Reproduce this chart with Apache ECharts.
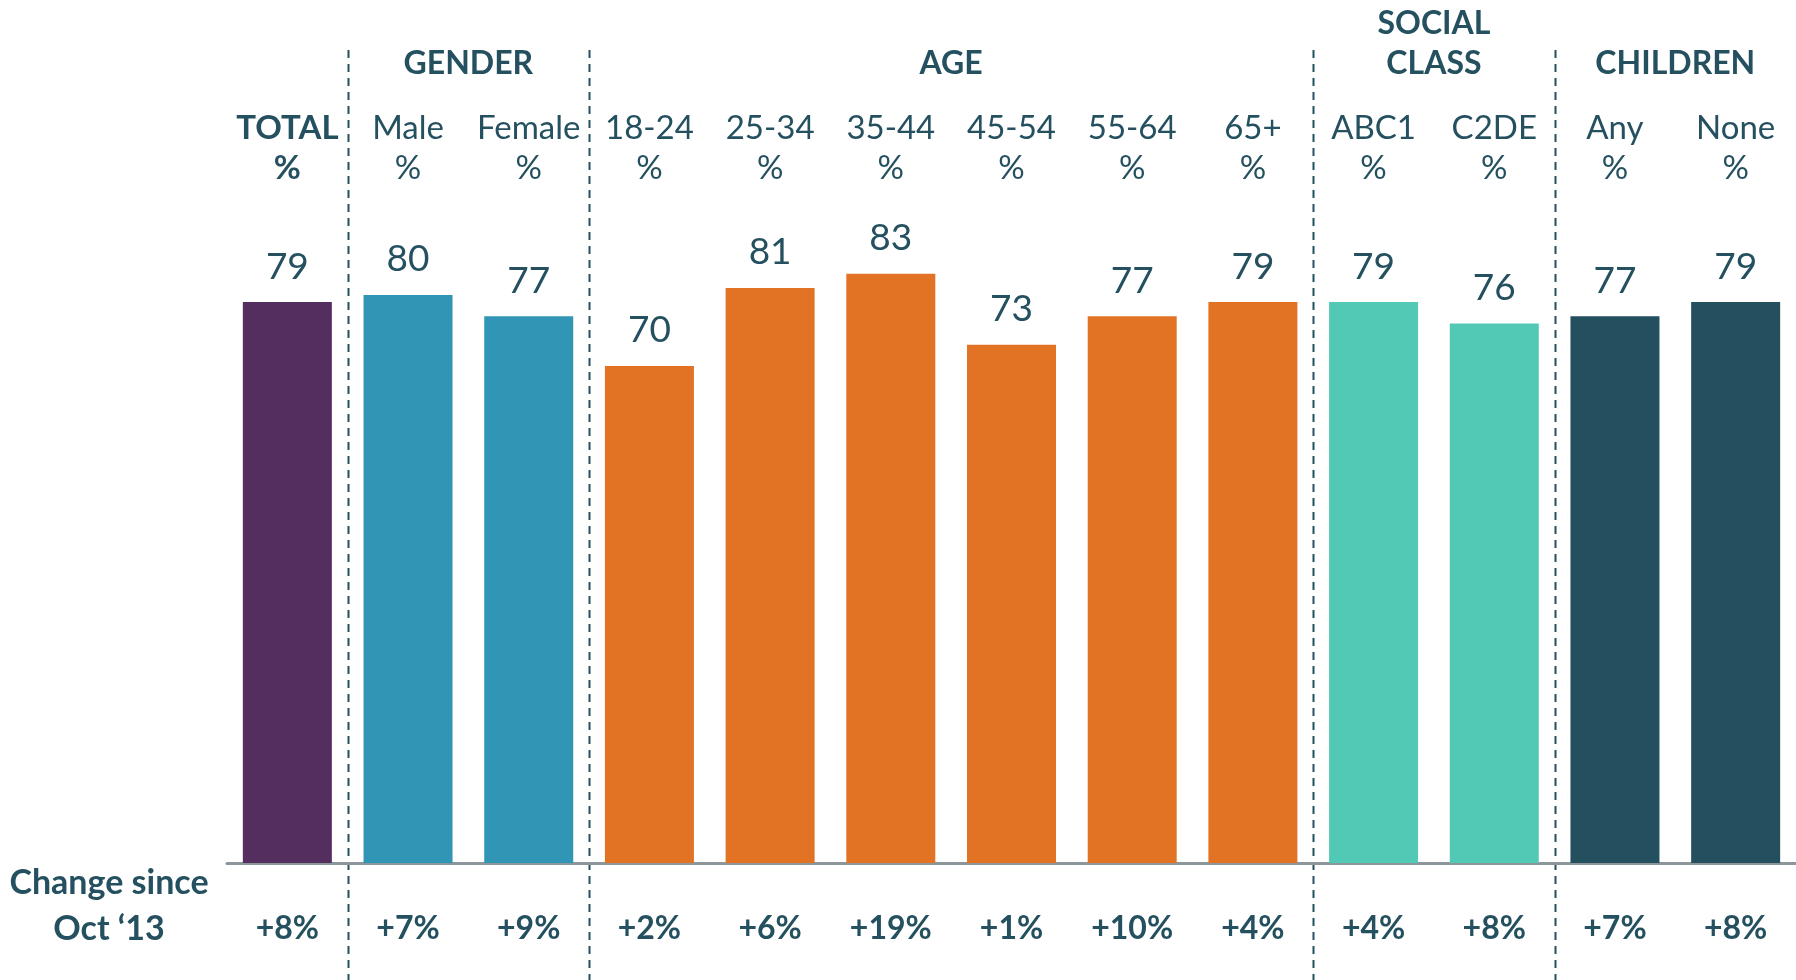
<!DOCTYPE html>
<html>
<head>
<meta charset="utf-8">
<script src="https://cdn.jsdelivr.net/npm/echarts@6/dist/echarts.min.js"></script>
<style>
  html, body { margin: 0; padding: 0; background: #fff; }
  #chart { width: 1796px; height: 980px; }
</style>
</head>
<body>
<div id="chart"></div>
<script>
const categories = ['TOTAL', 'Male', 'Female', '18-24', '25-34', '35-44', '45-54', '55-64', '65+', 'ABC1', 'C2DE', 'Any', 'None']
const values = [79, 80, 77, 70, 81, 83, 73, 77, 79, 79, 76, 77, 79]
const changes = ['+8%', '+7%', '+9%', '+2%', '+6%', '+19%', '+1%', '+10%', '+4%', '+4%', '+8%', '+7%', '+8%']
// group of each category (index into groupNames / groupColors)
const groupOf = [0, 1, 1, 2, 2, 2, 2, 2, 2, 3, 3, 4, 4]
const groupNames = ['', 'GENDER', 'AGE', 'SOCIAL\nCLASS', 'CHILDREN']
const groupColors = ['#532e5f', '#3196b6', '#e27325', '#52c9b4', '#234f5f']

const textColor = '#24505f'
const font = 'Lato'

const chart = echarts.init(document.getElementById('chart'))

chart.setOption({
  animation: false,
  grid: { left: 227, width: 1573, top: 153, bottom: 117 },
  xAxis: [
    {
      type: 'category',
      data: categories,
      position: 'bottom',
      axisLine: { lineStyle: { color: '#8c969b', width: 3 } },
      axisTick: { show: false },
      axisLabel: {
        interval: 0,
        margin: 50,
        color: textColor,
        fontFamily: font,
        fontWeight: 'bold',
        fontSize: 32,
        formatter: (v, i) => changes[i]
      }
    },
    {
      type: 'category',
      data: categories,
      position: 'top',
      offset: -40,
      axisLine: { show: false },
      axisTick: { show: false },
      axisLabel: {
        interval: 0,
        hideOverlap: false,
        margin: 5,
        fontFamily: font,
        fontSize: 33,
        lineHeight: 40,
        color: textColor,
        formatter: (v, i) => i === 0 ? '{b|' + v + '}\n{b|%}' : v + '\n%',
        rich: {
          b: { fontFamily: font, fontSize: 33, fontWeight: 'bold', color: textColor, lineHeight: 40 }
        }
      }
    }
  ],
  yAxis: {
    type: 'value',
    min: 0,
    max: 100,
    show: false,
    splitLine: { show: false }
  },
  series: [
    {
      type: 'bar',
      barWidth: 89,
      data: values.map((v, i) => ({ value: v, itemStyle: { color: groupColors[groupOf[i]] } })),
      label: {
        show: true,
        position: 'top',
        distance: 17,
        color: textColor,
        fontFamily: font,
        fontSize: 37
      }
    }
  ]
})

// group headers and dashed separators, placed from the category axis
const graphics = []
const px = i => chart.convertToPixel({ xAxisIndex: 0 }, i)
for (let g = 1; g < groupNames.length; g++) {
  const idx = groupOf.map((x, i) => x === g ? i : -1).filter(i => i >= 0)
  const first = idx[0], last = idx[idx.length - 1]
  graphics.push({
    type: 'text',
    x: (px(first) + px(last)) / 2,
    y: 84,
    style: {
      text: groupNames[g],
      align: 'center',
      verticalAlign: 'bottom',
      fill: textColor,
      font: 'bold 32px ' + font,
      lineHeight: 40
    }
  })
  const sepX = Math.round((px(first - 1) + px(first)) / 2) + 0.5
  graphics.push({
    type: 'line',
    shape: { x1: sepX, y1: 50, x2: sepX, y2: 980 },
    style: { stroke: textColor, lineWidth: 2, lineDash: [8, 6] }
  })
}
graphics.push({
  type: 'text',
  x: 109,
  y: 906,
  style: {
    text: 'Change since\nOct \u201813',
    align: 'center',
    verticalAlign: 'middle',
    fill: textColor,
    font: 'bold 34px ' + font,
    lineHeight: 46
  }
})
chart.setOption({ graphic: graphics })
</script>
</body>
</html>
